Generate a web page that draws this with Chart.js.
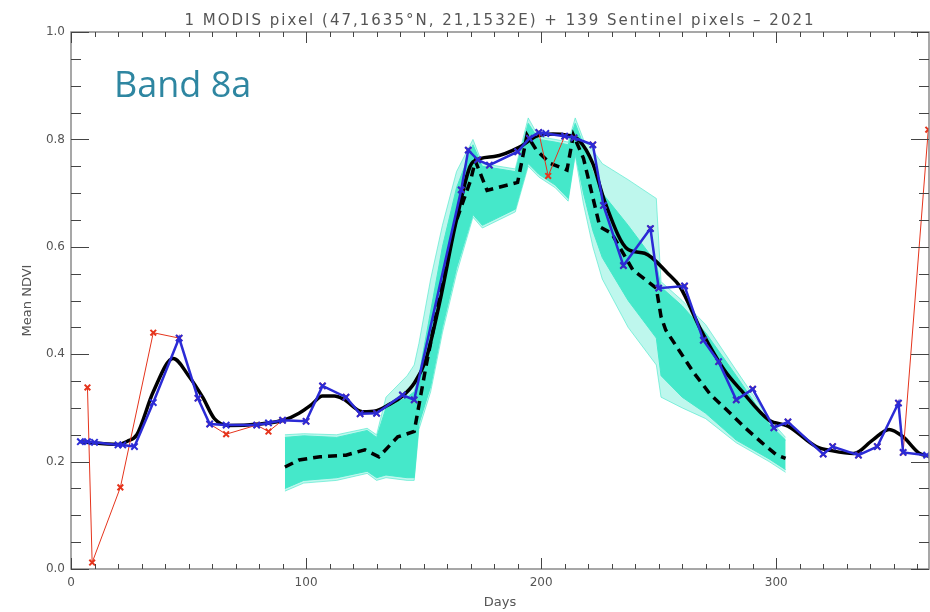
<!DOCTYPE html>
<html>
<head>
<meta charset="utf-8">
<script src="https://cdn.jsdelivr.net/npm/chart.js@4"></script>
<style>
  body { margin: 0; background: #fff; }
</style>
</head>
<body>
<canvas id="myChart" width="930" height="612"></canvas>
<script>
// MODIS pixel, cloud filtered (blue crosses)
const blueDays = [4, 7, 10, 20, 22, 27, 35, 46, 54, 59, 66, 79, 84, 90, 100, 107, 117, 123, 130, 141, 146,
    166, 169, 173, 178, 190, 195, 199, 202, 210, 214, 222, 226.5, 235, 246.5, 250, 261, 269, 275.5, 283, 290,
    299, 305, 320, 324, 335, 343, 352, 354, 364];
const blueVals = [0.237, 0.237, 0.236, 0.231, 0.231, 0.228, 0.31, 0.43, 0.318, 0.27, 0.268, 0.268, 0.272, 0.277, 0.275,
    0.341, 0.32, 0.289, 0.29, 0.324, 0.315,
    0.706, 0.78, 0.762, 0.752, 0.777, 0.802, 0.813, 0.811, 0.806, 0.803, 0.79, 0.677, 0.565, 0.634, 0.523, 0.527,
    0.426, 0.386, 0.315, 0.335, 0.263, 0.274, 0.214, 0.228, 0.212, 0.228, 0.309, 0.217, 0.212];

// MODIS pixel, raw (red crosses)
const redDays = [7, 9, 21, 35, 46, 54, 59, 66, 79, 84, 90, 100, 107, 117, 123, 130, 141, 146,
    166, 169, 173, 178, 190, 195, 199, 203, 210, 214, 222, 226.5, 235, 246.5, 250, 261, 269, 275.5, 283, 290,
    299, 305, 320, 324, 335, 343, 352, 354, 364.7];
const redVals = [0.338, 0.012, 0.152, 0.44, 0.43, 0.318, 0.27, 0.251, 0.268, 0.256, 0.277, 0.275, 0.341, 0.32, 0.289,
    0.29, 0.324, 0.315,
    0.706, 0.78, 0.762, 0.752, 0.777, 0.802, 0.813, 0.732, 0.806, 0.803, 0.79, 0.677, 0.565, 0.634, 0.523, 0.527,
    0.426, 0.386, 0.315, 0.335, 0.263, 0.274, 0.214, 0.228, 0.212, 0.228, 0.309, 0.217, 0.818];

// smoothed MODIS curve (black solid)
const smoothDays = [4, 20, 24, 28, 35, 43.5, 50, 56, 61, 67, 80, 91, 97, 102, 107, 112, 116, 124, 130, 136, 141, 146,
    151, 157, 164, 171, 180, 191, 198, 205, 211, 216, 222, 227, 237, 244, 254, 259, 268, 278, 285, 297, 305, 317,
    324, 333, 341, 348, 354, 361, 365];
const smoothVals = [0.237, 0.232, 0.238, 0.25, 0.33, 0.392, 0.36, 0.32, 0.28, 0.267, 0.27, 0.278, 0.29, 0.305, 0.322,
    0.322, 0.316, 0.293, 0.295, 0.308, 0.322, 0.346,
    0.39, 0.5, 0.65, 0.758, 0.768, 0.786, 0.806, 0.81, 0.808, 0.799, 0.755, 0.685, 0.595, 0.588, 0.55, 0.526, 0.445,
    0.37, 0.333, 0.277, 0.266, 0.228, 0.22, 0.215, 0.24, 0.26, 0.246, 0.215, 0.21];

// mean of the Sentinel pixels (black dashed)
const meanDays = [91, 97, 106, 117, 125, 131, 139, 146, 151, 156, 163, 170, 172, 177, 190, 194, 198, 204, 211,
    213.7, 218, 225, 230, 239, 249, 251, 253, 259, 265, 272, 280, 287, 294, 300, 304];
const meanVals = [0.19, 0.203, 0.209, 0.212, 0.222, 0.209, 0.246, 0.256, 0.377, 0.488, 0.637, 0.724, 0.76, 0.705,
    0.72, 0.808, 0.78, 0.755, 0.743, 0.808, 0.765, 0.637, 0.625, 0.557, 0.523, 0.47, 0.445, 0.405, 0.365, 0.325,
    0.292, 0.262, 0.235, 0.213, 0.206];

// envelope of the 139 Sentinel pixel curves
const bandDays = [91, 99, 113, 126, 130, 134, 143, 146, 148, 153, 158, 164, 171, 175, 189, 194.5, 199, 206, 211.5,
    214.5, 218, 222, 226, 237, 249, 251, 260, 270, 283, 297, 304];
const sparseHi = [0.25, 0.252, 0.25, 0.262, 0.25, 0.32, 0.36, 0.38, 0.42, 0.54, 0.64, 0.74, 0.80, 0.755, 0.745,
    0.84, 0.805, 0.80, 0.795, 0.84, 0.80, 0.78, 0.755, 0.725, 0.69, 0.535, 0.50, 0.455, 0.37, 0.28, 0.245];
const sparseLo = [0.145, 0.16, 0.165, 0.178, 0.165, 0.17, 0.165, 0.165, 0.26, 0.33, 0.44, 0.55, 0.655, 0.635, 0.665,
    0.75, 0.73, 0.71, 0.685, 0.77, 0.68, 0.60, 0.54, 0.45, 0.38, 0.32, 0.30, 0.28, 0.235, 0.20, 0.18];
const denseHi = [0.245, 0.248, 0.245, 0.258, 0.245, 0.30, 0.32, 0.33, 0.36, 0.48, 0.60, 0.71, 0.79, 0.75, 0.74,
    0.83, 0.80, 0.795, 0.79, 0.83, 0.79, 0.74, 0.70, 0.64, 0.57, 0.525, 0.49, 0.44, 0.36, 0.27, 0.24];
const denseLo = [0.15, 0.165, 0.17, 0.182, 0.17, 0.175, 0.17, 0.17, 0.27, 0.34, 0.45, 0.56, 0.66, 0.64, 0.67,
    0.755, 0.735, 0.715, 0.69, 0.775, 0.70, 0.63, 0.58, 0.50, 0.43, 0.36, 0.32, 0.29, 0.24, 0.205, 0.185];

const yTicks = [0, 0.2, 0.4, 0.6, 0.8, 1.0];
const xTicks = [0, 100, 200, 300];

const titleText = '1 MODIS pixel (47,1635°N, 21,1532E) + 139 Sentinel pixels – 2021';
const TURQ = '#45e8ca';
const GREY = '#555';

function pts(days, vals) {
    return days.map((d, i) => ({x: d, y: vals[i]}));
}

// IDL style box with inward ticks, title and the band label
const frame = {
    id: 'frame',
    afterDraw(chart) {
        const {ctx, chartArea: a, scales: {x, y}} = chart;
        ctx.save();
        ctx.strokeStyle = '#8a8a8a';
        ctx.lineWidth = 1.5;
        ctx.strokeRect(a.left, a.top, a.right - a.left, a.bottom - a.top);
        ctx.strokeStyle = '#444';
        ctx.lineWidth = 1;
        ctx.beginPath();
        for (let d = 0; d <= x.max; d += 10) {
            const px = Math.round(x.getPixelForValue(d)) + 0.5;
            const len = d % 100 === 0 ? 11 : 5;
            ctx.moveTo(px, a.bottom); ctx.lineTo(px, a.bottom - len);
            ctx.moveTo(px, a.top); ctx.lineTo(px, a.top + len);
        }
        for (let k = 0; k <= 20; k++) {
            const py = Math.round(y.getPixelForValue(k * 0.05)) + 0.5;
            const len = k % 4 === 0 ? 18 : 10;
            ctx.moveTo(a.left, py); ctx.lineTo(a.left + len, py);
            ctx.moveTo(a.right, py); ctx.lineTo(a.right - len, py);
        }
        ctx.stroke();

        // title, wide letter spacing like the IDL vector font
        ctx.fillStyle = GREY;
        ctx.font = '15px "DejaVu Sans"';
        ctx.letterSpacing = '2px';
        ctx.textAlign = 'center';
        ctx.textBaseline = 'alphabetic';
        ctx.fillText(titleText, (a.left + a.right) / 2, 25);
        ctx.letterSpacing = '0px';

        ctx.fillStyle = '#2e86a1';
        ctx.font = '36px "Open Sans"';
        ctx.textAlign = 'left';
        ctx.fillText('Band 8a', 114, 97);
        ctx.restore();
    }
};

const ctx = document.getElementById('myChart');

new Chart(ctx, {
    type: 'line',
    data: {
        datasets: [
            {data: pts(blueDays, blueVals), borderColor: '#2b2bd6', borderWidth: 2.5,
             pointStyle: 'crossRot', pointRadius: 4.5, pointBorderWidth: 2, pointBorderColor: '#2b2bd6', order: 1},
            {data: pts(redDays, redVals), borderColor: '#e5341c', borderWidth: 1,
             pointStyle: 'crossRot', pointRadius: 4, pointBorderWidth: 2, pointBorderColor: '#e5341c', order: 2},
            {data: pts(smoothDays, smoothVals), borderColor: '#000', borderWidth: 3.5, pointRadius: 0,
             cubicInterpolationMode: 'monotone', order: 3},
            {data: pts(meanDays, meanVals), borderColor: '#000', borderWidth: 3.5, borderDash: [9, 6],
             pointRadius: 0, order: 4},
            {data: pts(bandDays, denseHi), borderColor: TURQ, backgroundColor: TURQ, borderWidth: 1,
             pointRadius: 0, fill: '+1', order: 5},
            {data: pts(bandDays, denseLo), borderColor: TURQ, borderWidth: 1, pointRadius: 0, order: 5},
            {data: pts(bandDays, sparseHi), borderColor: 'rgba(69,232,202,0.6)', backgroundColor: 'rgba(69,232,202,0.35)',
             borderWidth: 1, pointRadius: 0, fill: '+1', order: 6},
            {data: pts(bandDays, sparseLo), borderColor: 'rgba(69,232,202,0.6)', borderWidth: 1, pointRadius: 0, order: 6}
        ]
    },
    options: {
        responsive: false,
        devicePixelRatio: 1,
        animation: false,
        layout: {autoPadding: false, padding: {left: 0, right: 1, top: 32, bottom: 0}},
        plugins: {
            legend: {display: false},
            tooltip: {enabled: false},
            title: {display: false}
        },
        scales: {
            x: {
                type: 'linear', min: 0, max: 365,
                afterFit: s => { s.height = 43; s.paddingLeft = 0; s.paddingRight = 0; },
                afterBuildTicks: s => { s.ticks = xTicks.map(v => ({value: v})); },
                grid: {display: false, drawTicks: false},
                border: {display: false},
                ticks: {color: GREY, padding: 7, font: {family: 'DejaVu Sans', size: 12}},
                title: {display: true, text: 'Days', color: GREY, font: {family: 'DejaVu Sans', size: 13},
                        padding: {top: 0, bottom: 2}}
            },
            y: {
                min: 0, max: 1,
                afterFit: s => { s.width = 71; s.paddingTop = 0; s.paddingBottom = 0; },
                afterBuildTicks: s => { s.ticks = yTicks.map(v => ({value: v})); },
                grid: {display: false, drawTicks: false},
                border: {display: false},
                ticks: {color: GREY, padding: 6, font: {family: 'DejaVu Sans', size: 12},
                        callback: v => v.toFixed(1)},
                title: {display: true, text: 'Mean NDVI', color: GREY, font: {family: 'DejaVu Sans', size: 13},
                        padding: {top: 20, bottom: 0}}
            }
        }
    },
    plugins: [frame]
});
</script>
</body>
</html>
